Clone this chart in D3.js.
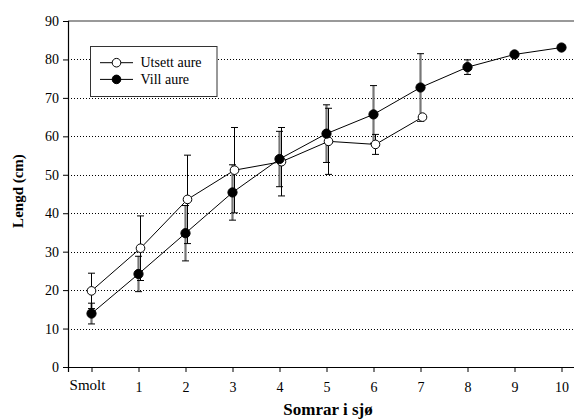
<!DOCTYPE html>
<html><head><meta charset="utf-8">
<script src="https://cdn.jsdelivr.net/npm/d3@7"></script>
<style>body{margin:0;background:#fff}svg{display:block}svg text{font-family:"Liberation Serif","Times New Roman",Times,serif !important}</style>
</head><body>
<svg id="c" width="574" height="419"></svg>
<script>
const xTicks = [0,1,2,3,4,5,6,7,8,9,10];
const xTickLabels = ["Smolt","1","2","3","4","5","6","7","8","9","10"];
const yTicks = [0,10,20,30,40,50,60,70,80,90];
const seriesNames = ["Utsett aure","Vill aure"];
const utsettX = [0,1,2,3,4,5,6,7];
const utsettMean = [19.8,30.9,43.6,51.2,53.4,58.7,57.9,65.0];
const utsettSD = [4.6,8.4,11.5,11.1,8.9,8.6,2.6,null];
const villX = [0,1,2,3,4,5,6,7,8,9,10];
const villMean = [13.9,24.2,34.8,45.4,54.1,60.7,65.7,72.7,78.0,81.3,83.1];
const villSD = [2.7,4.6,7.2,7.2,7.2,7.5,7.5,8.8,1.9,null,null];

const FONT = "'Liberation Serif','Times New Roman',Times,serif";
const svg = d3.select("#c");
const L=68, R=585, T=21, B=367;
const x = d3.scaleLinear().domain([-0.5,10.5]).range([L,R]);
const y = d3.scaleLinear().domain([0,90]).range([B,T]);

// gridlines
svg.append("g").selectAll("line").data(yTicks.filter(d=>d>0&&d<90)).join("line")
  .attr("x1",L).attr("x2",574).attr("y1",d=>Math.round(y(d))+0.5).attr("y2",d=>Math.round(y(d))+0.5)
  .attr("stroke","#000").attr("stroke-width",1).attr("stroke-dasharray","1,2");
// top frame line
svg.append("line").attr("x1",L).attr("x2",574).attr("y1",y(90)).attr("y2",y(90))
  .attr("stroke","#777").attr("stroke-width",1.5);

// axes
const yAxis = d3.axisLeft(y).tickValues(yTicks).tickSize(5).tickPadding(4);
const gy = svg.append("g").attr("transform",`translate(${L},0)`).call(yAxis);
const xAxis = d3.axisBottom(x).tickValues(xTicks).tickSize(5).tickPadding(10).tickFormat((d,i)=>xTickLabels[i]);
const gx = svg.append("g").attr("transform",`translate(0,${B})`).call(xAxis);
[gy,gx].forEach(g=>{
  g.attr("font-family",FONT).attr("font-size",14);
  g.select(".domain").attr("stroke","#000").attr("stroke-width",1.2);
  g.selectAll(".tick line").attr("stroke","#000");
  g.selectAll("text").attr("font-size",14).attr("fill","#000").style("font-family",FONT);
});
gx.selectAll(".tick text").filter(d=>d===0).attr("dx",-4.5).attr("dy","0.5em").attr("font-size",15);

// axis titles
svg.append("text").attr("x",328).attr("y",415).attr("text-anchor","middle").style("font-family",FONT)
  .attr("font-size",17).attr("font-weight","bold").text("Somrar i sjø");
svg.append("text").attr("transform","translate(23,191) rotate(-90)").attr("text-anchor","middle").style("font-family",FONT)
  .attr("font-size",15).attr("font-weight","bold").text("Lengd (cm)");

function pts(xs,ms,sds){return xs.map((d,i)=>({x:d,m:ms[i],sd:sds[i]}));}
const vill = pts(villX,villMean,villSD);
const uts = pts(utsettX,utsettMean,utsettSD);
const offU = 2;

const line = (off)=>d3.line().x(d=>x(d.x)+(d.x===0?0:off)).y(d=>y(d.m));

// error bars
function errs(data,off,color,w){
  const g = svg.append("g").attr("stroke",color).attr("stroke-width",w);
  data.filter(d=>d.sd!=null).forEach(d=>{
    const cx = x(d.x)+(d.x===0?0:off);
    g.append("line").attr("x1",cx).attr("x2",cx).attr("y1",y(d.m+d.sd)).attr("y2",y(d.m-d.sd));
    [d.m+d.sd,d.m-d.sd].forEach(v=>g.append("line").attr("x1",cx-3.5).attr("x2",cx+3.5).attr("y1",y(v)).attr("y2",y(v)).attr("stroke","#000").attr("stroke-width",1));
  });
}
errs(vill,0,"#777",2.2);
errs(uts,offU,"#000",1);

svg.append("path").datum(vill).attr("d",line(0)).attr("fill","none").attr("stroke","#000").attr("stroke-width",1);
svg.append("path").datum(uts).attr("d",line(offU)).attr("fill","none").attr("stroke","#000").attr("stroke-width",1);

svg.append("g").selectAll("circle").data(uts).join("circle")
  .attr("cx",d=>x(d.x)+(d.x===0?0:offU)).attr("cy",d=>y(d.m)).attr("r",4.3)
  .attr("fill","#fff").attr("stroke","#000").attr("stroke-width",1);
svg.append("g").selectAll("circle").data(vill).join("circle")
  .attr("cx",d=>x(d.x)).attr("cy",d=>y(d.m)).attr("r",4.6)
  .attr("fill","#000").attr("stroke","#000").attr("stroke-width",1);

// legend
const lg = svg.append("g");
lg.append("rect").attr("x",90.5).attr("y",46.5).attr("width",126.5).attr("height",50)
  .attr("fill","#fff").attr("stroke","#333").attr("stroke-width",1);
seriesNames.forEach((n,i)=>{
  const yy = 62.7 + i*16.7;
  lg.append("line").attr("x1",100).attr("x2",133).attr("y1",yy).attr("y2",yy).attr("stroke","#000");
  lg.append("circle").attr("cx",116.5).attr("cy",yy).attr("r",4.3)
    .attr("fill",i===0?"#fff":"#000").attr("stroke","#000");
  lg.append("text").attr("x",140.5).attr("y",yy+4.5).attr("font-size",14).style("font-family",FONT).text(n);
});
</script>
</body></html>
